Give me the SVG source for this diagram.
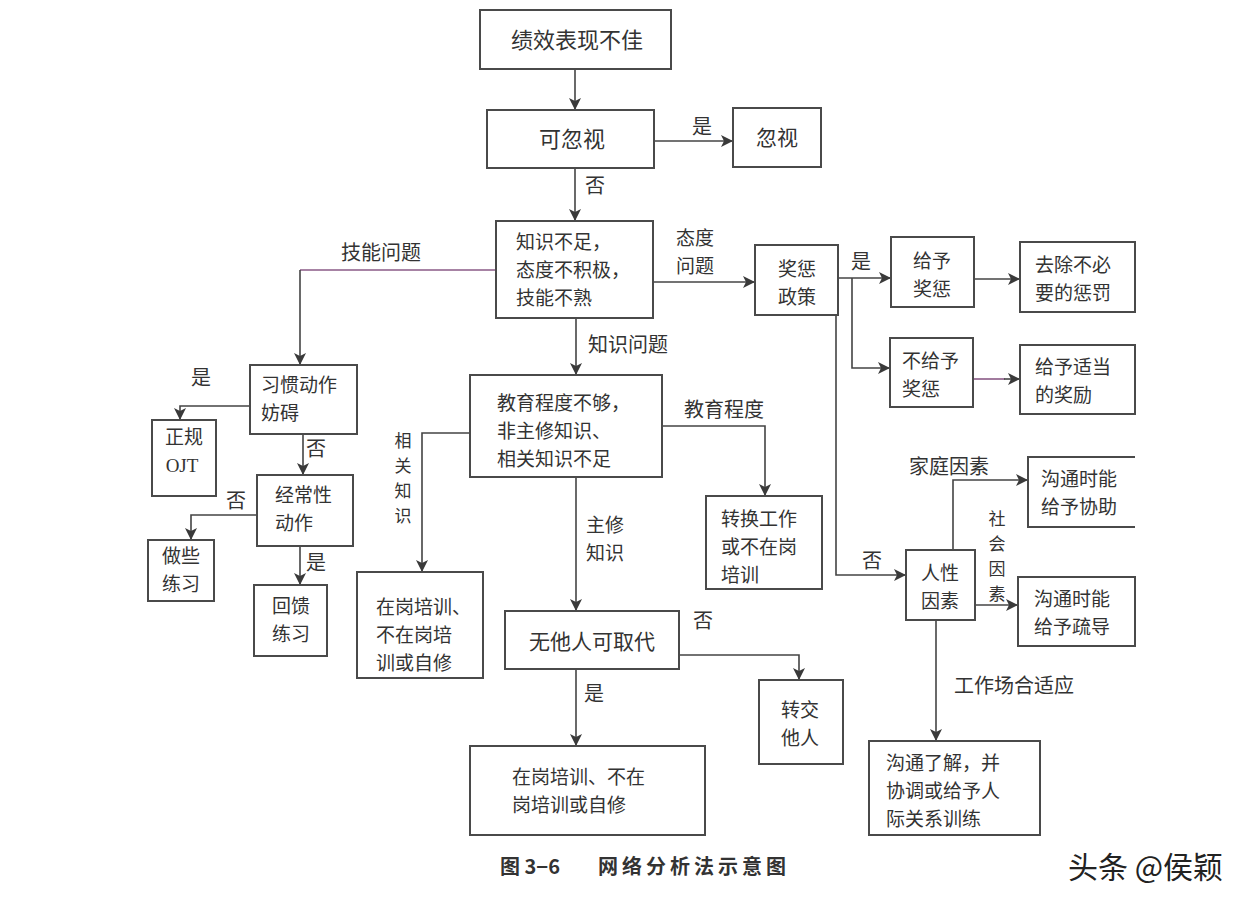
<svg xmlns="http://www.w3.org/2000/svg" width="1260" height="908" viewBox="0 0 1260 908">
<style>
.b{fill:#fff;stroke:#4a4a4a;stroke-width:2}
.t{font-family:"Noto Sans CJK SC","Noto Sans",sans-serif;font-size:19px;fill:#333}
.s{font-size:20px}
.v{font-size:17px}
.c{text-anchor:middle}
.l{fill:none;stroke:#444;stroke-width:1.6}
.p{fill:none;stroke:#8a5a86;stroke-width:1.6}
</style>
<defs>
<marker id="a" viewBox="0 0 10 10" refX="10" refY="5" markerWidth="14" markerHeight="12" markerUnits="userSpaceOnUse" orient="auto">
<path d="M0,0 L10,5 L0,10 L2.5,5 Z" fill="#3a3a3a"/>
</marker>
</defs>
<rect width="1260" height="908" fill="#fff"/>

<g id="connectors">
<path class="l" d="M575,69 V110" marker-end="url(#a)"/>
<path class="l" d="M654,141 H733" marker-end="url(#a)"/>
<path class="l" d="M575,168 V221" marker-end="url(#a)"/>
<path class="p" d="M496,270 H300"/>
<path class="l" d="M300,270 V365" marker-end="url(#a)"/>
<path class="l" d="M653,282 H755" marker-end="url(#a)"/>
<path class="l" d="M838,278 H891" marker-end="url(#a)"/>
<path class="l" d="M852,278 V368 H890" marker-end="url(#a)"/>
<path class="l" d="M974,279 H1020" marker-end="url(#a)"/>
<path class="p" d="M973,379 H1005"/>
<path class="l" d="M1004,379 H1020" marker-end="url(#a)"/>
<path class="l" d="M836,315 V575 H906" marker-end="url(#a)"/>
<path class="l" d="M953,550 V480 H1028" marker-end="url(#a)"/>
<path class="l" d="M975,605 H1018" marker-end="url(#a)"/>
<path class="l" d="M936,620 V741" marker-end="url(#a)"/>
<path class="l" d="M250,406 H180 V420" marker-end="url(#a)"/>
<path class="l" d="M303,434 V475" marker-end="url(#a)"/>
<path class="l" d="M257,515 H191 V540" marker-end="url(#a)"/>
<path class="l" d="M300,546 V585" marker-end="url(#a)"/>
<path class="l" d="M576,318 V375" marker-end="url(#a)"/>
<path class="l" d="M470,433 H422 V572" marker-end="url(#a)"/>
<path class="l" d="M662,426 H765 V496" marker-end="url(#a)"/>
<path class="l" d="M576,477 V611" marker-end="url(#a)"/>
<path class="l" d="M679,655 H799 V680" marker-end="url(#a)"/>
<path class="l" d="M576,669 V746" marker-end="url(#a)"/>
</g>

<g id="edge-labels" class="t">
<text x="702" y="134" class="c s">是</text>
<text x="595" y="193" class="c s">否</text>
<text x="381" y="260" class="c s">技能问题</text>
<text class="c"><tspan x="695" y="245">态度</tspan><tspan x="695" y="273">问题</tspan></text>
<text x="861" y="269" class="c s">是</text>
<text x="872" y="568" class="c s">否</text>
<text x="949" y="474" class="c s">家庭因素</text>
<text class="c v"><tspan x="997" y="525">社</tspan><tspan x="997" y="550">会</tspan><tspan x="997" y="575">因</tspan><tspan x="997" y="600">素</tspan></text>
<text x="1014" y="693" class="c s">工作场合适应</text>
<text x="628" y="352" class="c s">知识问题</text>
<text x="201" y="385" class="c s">是</text>
<text x="316" y="456" class="c s">否</text>
<text x="236" y="508" class="c s">否</text>
<text x="316" y="570" class="c s">是</text>
<text class="c v"><tspan x="403" y="447">相</tspan><tspan x="403" y="472">关</tspan><tspan x="403" y="497">知</tspan><tspan x="403" y="522">识</tspan></text>
<text x="724" y="417" class="c s">教育程度</text>
<text class="c"><tspan x="605" y="532">主修</tspan><tspan x="605" y="560">知识</tspan></text>
<text x="703" y="628" class="c s">否</text>
<text x="594" y="701" class="c s">是</text>
</g>

<g id="n1"><rect class="b" x="480" y="10" width="191" height="59"/><text class="t c" x="577" y="48" style="font-size:22px">绩效表现不佳</text></g>
<g id="n2"><rect class="b" x="487" y="110" width="167" height="58"/><text class="t c" x="572" y="147" style="font-size:22px">可忽视</text></g>
<g id="n3"><rect class="b" x="733" y="108" width="88" height="59"/><text class="t c" x="777" y="145" style="font-size:21px">忽视</text></g>
<g id="n4"><rect class="b" x="496" y="221" width="157" height="97"/>
<text class="t"><tspan x="516" y="249">知识不足，</tspan><tspan x="516" y="277">态度不积极，</tspan><tspan x="516" y="305">技能不熟</tspan></text></g>
<g id="n5"><rect class="b" x="755" y="245" width="83" height="70"/><text class="t c"><tspan x="797" y="276">奖惩</tspan><tspan x="797" y="304">政策</tspan></text></g>
<g id="n6"><rect class="b" x="891" y="237" width="83" height="70"/><text class="t c"><tspan x="932" y="268">给予</tspan><tspan x="932" y="296">奖惩</tspan></text></g>
<g id="n7"><rect class="b" x="1020" y="242" width="115" height="70"/><text class="t"><tspan x="1035" y="272">去除不必</tspan><tspan x="1035" y="300">要的惩罚</tspan></text></g>
<g id="n8"><rect class="b" x="890" y="338" width="83" height="69"/><text class="t"><tspan x="902" y="368">不给予</tspan><tspan x="902" y="396">奖惩</tspan></text></g>
<g id="n9"><rect class="b" x="1020" y="345" width="115" height="69"/><text class="t"><tspan x="1035" y="374">给予适当</tspan><tspan x="1035" y="402">的奖励</tspan></text></g>
<g id="n10"><rect class="b" x="906" y="550" width="69" height="70"/><text class="t c"><tspan x="940" y="580">人性</tspan><tspan x="940" y="608">因素</tspan></text></g>
<g id="n11"><path class="b" d="M1135,457 H1028 V527 H1135" fill="#fff"/><text class="t"><tspan x="1041" y="486">沟通时能</tspan><tspan x="1041" y="514">给予协助</tspan></text></g>
<g id="n12"><rect class="b" x="1018" y="577" width="117" height="69"/><text class="t"><tspan x="1034" y="606">沟通时能</tspan><tspan x="1034" y="634">给予疏导</tspan></text></g>
<g id="n13"><rect class="b" x="869" y="741" width="171" height="94"/><text class="t"><tspan x="886" y="770">沟通了解，并</tspan><tspan x="886" y="798">协调或给予人</tspan><tspan x="886" y="826">际关系训练</tspan></text></g>
<g id="n14"><rect class="b" x="250" y="365" width="107" height="69"/><text class="t"><tspan x="261" y="392">习惯动作</tspan><tspan x="261" y="420">妨碍</tspan></text></g>
<g id="n15"><rect class="b" x="152" y="420" width="64" height="76"/><text class="t c"><tspan x="184" y="444">正规</tspan><tspan x="182" y="472" style="font-family:'Liberation Serif',serif">OJT</tspan></text></g>
<g id="n16"><rect class="b" x="257" y="475" width="96" height="71"/><text class="t"><tspan x="275" y="502">经常性</tspan><tspan x="275" y="530">动作</tspan></text></g>
<g id="n17"><rect class="b" x="148" y="540" width="66" height="61"/><text class="t c"><tspan x="181" y="563">做些</tspan><tspan x="181" y="591">练习</tspan></text></g>
<g id="n18"><rect class="b" x="254" y="585" width="73" height="71"/><text class="t c"><tspan x="291" y="613">回馈</tspan><tspan x="291" y="641">练习</tspan></text></g>
<g id="n19"><rect class="b" x="470" y="375" width="192" height="102"/><text class="t"><tspan x="497" y="410">教育程度不够，</tspan><tspan x="497" y="438">非主修知识、</tspan><tspan x="497" y="466">相关知识不足</tspan></text></g>
<g id="n20"><rect class="b" x="357" y="572" width="126" height="106"/><text class="t"><tspan x="376" y="614">在岗培训、</tspan><tspan x="376" y="642">不在岗培</tspan><tspan x="376" y="670">训或自修</tspan></text></g>
<g id="n21"><rect class="b" x="706" y="496" width="116" height="93"/><text class="t"><tspan x="721" y="526">转换工作</tspan><tspan x="721" y="554">或不在岗</tspan><tspan x="721" y="582">培训</tspan></text></g>
<g id="n22"><rect class="b" x="505" y="611" width="174" height="58"/><text class="t c" x="592" y="649" style="font-size:21px">无他人可取代</text></g>
<g id="n23"><rect class="b" x="759" y="680" width="84" height="84"/><text class="t c"><tspan x="800" y="717">转交</tspan><tspan x="800" y="745">他人</tspan></text></g>
<g id="n24"><rect class="b" x="470" y="746" width="235" height="89"/><text class="t"><tspan x="512" y="784">在岗培训、不在</tspan><tspan x="512" y="812">岗培训或自修</tspan></text></g>

<text style="font-family:'Noto Sans CJK SC',sans-serif;font-size:20px;font-weight:bold;fill:#333"><tspan x="500" y="874">图 3−6</tspan><tspan x="598" y="874" letter-spacing="4">网络分析法示意图</tspan></text>
<text x="1068" y="878" style="font-family:'Noto Sans CJK SC',sans-serif;font-size:30px;fill:#222">头条 @侯颖</text>
</svg>
